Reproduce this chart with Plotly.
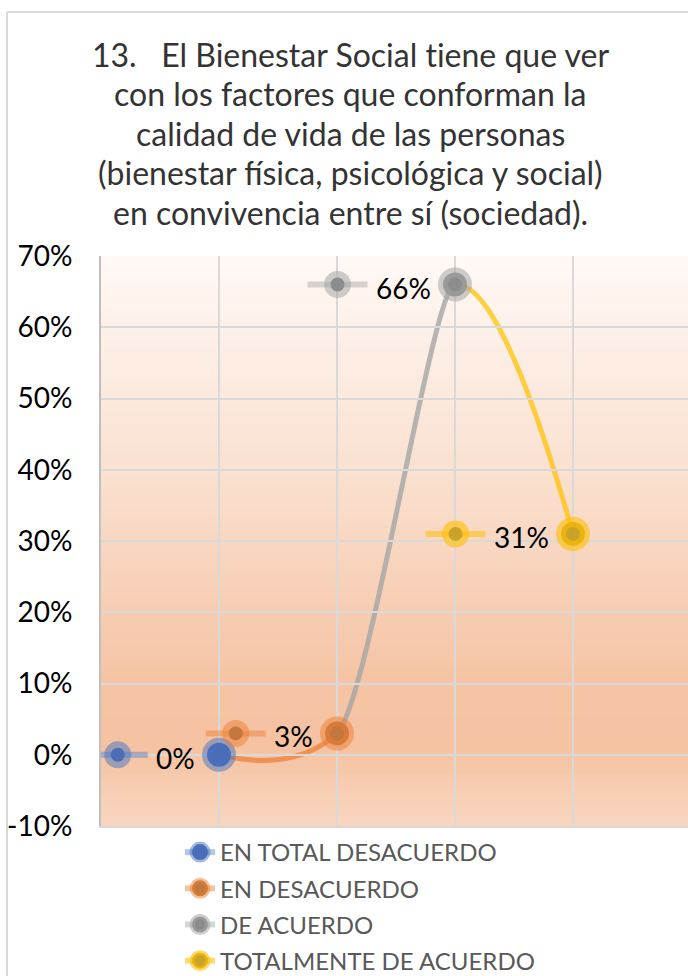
import plotly.graph_objects as go

# datos (una sola serie con colores por punto, como en Excel)
CATEGORIES = ["EN TOTAL DESACUERDO", "EN DESACUERDO", "DE ACUERDO", "TOTALMENTE DE ACUERDO"]
POSITIONS = [1, 2, 3, 4]
VALUES = [0.00, 0.03, 0.66, 0.31]
LABELS = ["0%", "3%", "66%", "31%"]
TITLE_LINES = [
    "13.   El Bienestar Social tiene que ver",
    "con los factores que conforman la",
    "calidad de vida de las personas",
    "(bienestar física, psicológica y social)",
    "en convivencia entre sí (sociedad).",
]
Y_TICKS = [-0.1, 0.0, 0.1, 0.2, 0.3, 0.4, 0.5, 0.6, 0.7]
Y_TICK_TEXT = ["-10%", "0%", "10%", "20%", "30%", "40%", "50%", "60%", "70%"]

INNER = ["#4A6DB5", "#C2773F", "#8C8C8C", "#C9A229"]
GLOW = ["rgba(68,114,196,0.5)", "rgba(237,125,49,0.5)", "rgba(165,165,165,0.55)", "rgba(255,192,0,0.6)"]
LINE = ["rgba(68,114,196,0.6)", "rgba(237,125,49,0.72)", "rgba(165,165,165,0.8)", "rgba(255,192,0,0.72)"]
KEYLINE = ["rgba(68,114,196,0.4)", "rgba(237,125,49,0.45)", "rgba(165,165,165,0.45)", "rgba(255,192,0,0.55)"]
SMOOTH = [1.3, 1.3, 0.5, 1.3]   # suavizado del tramo que llega a cada punto

FONT = "Lato, 'Liberation Sans', sans-serif"
W, H = 688, 976
L, R, T, B = 101, 0, 256, 150
PW, PH = W - L - R, H - T - B
PX_PER_CAT = 118
X_MAX = PW / PX_PER_CAT
LABEL_SIZE = 28


def paper_x(px):
    return (px - L) / PW


def paper_y(py):
    return (T + PH - py) / PH


def text_width(s, size):
    return sum(0.75 if c == "%" else 0.58 for c in s) * size


def no_lig(s):
    return s.replace("ti", "t\u200ci")


def blend(t):
    stops = [(0.0, (255, 249, 246)), (0.375, (250, 225, 209)), (0.75, (245, 196, 164)),
             (0.87, (245, 195, 162)), (1.0, (249, 214, 192))]
    for (t0, c0), (t1, c1) in zip(stops, stops[1:]):
        if t <= t1:
            f = (t - t0) / (t1 - t0)
            c = [round(a + (b - a) * f) for a, b in zip(c0, c1)]
            return f"rgb({c[0]},{c[1]},{c[2]})"
    return "rgb(249,214,192)"


fig = go.Figure()

# tramos de la curva suavizada: misma curva, recortada por subgráfico
for k in range(1, len(POSITIONS)):
    fig.add_trace(go.Scatter(
        x=POSITIONS, y=VALUES, mode="lines",
        line=dict(color=LINE[k], width=5, shape="spline", smoothing=SMOOTH[k]),
        xaxis=f"x{k + 1}", yaxis="y", showlegend=False, hoverinfo="skip",
    ))

# marcadores + leyenda
for i, cat in enumerate(CATEGORIES):
    fig.add_trace(go.Scatter(
        x=[POSITIONS[i]], y=[VALUES[i]], mode="lines+markers", name=cat,
        legendgroup=cat,
        marker=dict(size=24, color=INNER[i], line=dict(color=GLOW[i], width=10)),
        line=dict(color=KEYLINE[i], width=6),
        xaxis="x5", yaxis="y", cliponaxis=False,
    ))

# fondo degradado (bandas solapadas para evitar costuras)
shapes = []
N = 80
for j in range(N):
    shapes.append(dict(
        type="rect", xref="x domain", yref="y domain", layer="below",
        x0=0, x1=1, y0=1 - (j + 1) / N, y1=min(1, 1 - j / N + 0.004),
        fillcolor=blend((j + 0.5) / N), line=dict(width=0),
    ))

# claves de leyenda dentro de las etiquetas de datos
annotations = []
for i, lab in enumerate(LABELS):
    c = -(24 + text_width(lab, LABEL_SIZE) + 10 + 30)
    common = dict(xref="x", yref="y", xsizemode="pixel", ysizemode="pixel",
                  xanchor=POSITIONS[i], yanchor=VALUES[i], layer="above")
    shapes.append(dict(type="line", x0=c - 30, x1=c + 30, y0=0, y1=0,
                       line=dict(color=KEYLINE[i], width=6), **common))
    shapes.append(dict(type="circle", x0=c - 13.5, x1=c + 13.5, y0=-13.5, y1=13.5,
                       fillcolor=GLOW[i], line=dict(width=0), **common))
    shapes.append(dict(type="circle", x0=c - 7, x1=c + 7, y0=-7, y1=7,
                       fillcolor=INNER[i], line=dict(width=0), **common))
    annotations.append(dict(
        x=POSITIONS[i], y=VALUES[i], xref="x", yref="y", text=lab,
        showarrow=False, xanchor="right", xshift=-22, yshift=-3,
        font=dict(family=FONT, size=LABEL_SIZE, color="#000000"),
    ))

# borde del gráfico (solo izquierda y arriba quedan dentro de la imagen)
shapes.append(dict(type="line", xref="paper", yref="paper", layer="above",
                   x0=paper_x(7), x1=paper_x(7), y0=paper_y(H), y1=paper_y(12),
                   line=dict(color="#D9D9D9", width=2)))
shapes.append(dict(type="line", xref="paper", yref="paper", layer="above",
                   x0=paper_x(7), x1=paper_x(W), y0=paper_y(12), y1=paper_y(12),
                   line=dict(color="#D9D9D9", width=2)))

for n, line_txt in enumerate(TITLE_LINES):
    annotations.append(dict(
        x=paper_x(350), y=paper_y(54 + 39.5 * n), xref="paper", yref="paper",
        text=no_lig(line_txt), showarrow=False, xanchor="center", yanchor="middle",
        font=dict(family=FONT, size=32, color="#333333"),
    ))

layout_axes = {}
for k in range(1, len(POSITIONS)):
    a, b = POSITIONS[k - 1], POSITIONS[k]
    layout_axes[f"xaxis{k + 1}"] = dict(
        domain=[a / X_MAX, b / X_MAX], range=[a, b], anchor="y", visible=False,
    )
layout_axes["xaxis5"] = dict(domain=[0, 1], range=[0, X_MAX], anchor="y", visible=False)

fig.update_layout(
    width=W, height=H,
    margin=dict(l=L, r=R, t=T, b=B, autoexpand=False),
    paper_bgcolor="white", plot_bgcolor="rgba(0,0,0,0)",
    font=dict(family=FONT),
    xaxis=dict(range=[0, X_MAX], dtick=1, tick0=0, showticklabels=False,
               showgrid=True, gridcolor="#D9D9D9", gridwidth=2,
               showline=True, linecolor="#D9D9D9", linewidth=2,
               zeroline=False, ticks=""),
    yaxis=dict(range=[-0.1, 0.7], tickvals=Y_TICKS, ticktext=Y_TICK_TEXT,
               showgrid=True, gridcolor="#D9D9D9", gridwidth=2,
               showline=True, linecolor="#BFBFBF", linewidth=2,
               zeroline=False, ticks="", ticklabelstandoff=21,
               tickfont=dict(family=FONT, size=28, color="#000000")),
    showlegend=True,
    legend=dict(x=paper_x(180), y=paper_y(830), xanchor="left", yanchor="top",
                font=dict(family=FONT, size=24, color="#595959"),
                bgcolor="rgba(0,0,0,0)", tracegroupgap=2, itemclick=False),
    shapes=shapes, annotations=annotations,
    **layout_axes,
)

fig.write_html(
    "out.html",
    config={"displayModeBar": False},
    post_script="document.body.style.margin='0';document.body.style.overflow='hidden';",
)
